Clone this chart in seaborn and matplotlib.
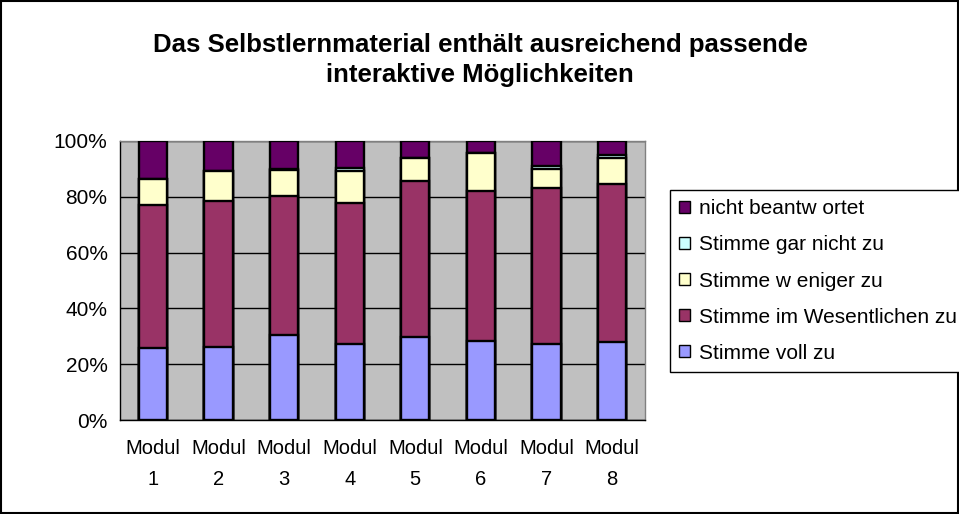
# Stacked survey bars, module evaluation
import numpy as np
import pandas as pd
import matplotlib
matplotlib.use('Agg')
import matplotlib.pyplot as plt
from matplotlib.patches import Rectangle, Patch
from matplotlib.ticker import FixedLocator
import seaborn as sns


# DATA ------------------

modules = ['Modul\n1', 'Modul\n2', 'Modul\n3', 'Modul\n4', 'Modul\n5', 'Modul\n6', 'Modul\n7', 'Modul\n8']
voll = [25.7, 26.3, 30.5, 27.1, 29.9, 28.4, 27.1, 27.8]
wesentlich = [51.3, 52.1, 49.9, 50.6, 55.8, 53.8, 55.9, 56.7]
weniger = [9.4, 10.7, 9.2, 11.7, 8.1, 13.6, 6.8, 9.3]
gar_nicht = [0.0, 0.0, 0.3, 1.0, 0.0, 0.0, 1.4, 1.2]
nicht_beantwortet = [13.6, 10.9, 10.1, 9.6, 6.2, 4.2, 8.8, 5.0]

series_names = ['Stimme voll zu', 'Stimme im Wesentlichen zu', 'Stimme w eniger zu',
                'Stimme gar nicht zu', 'nicht beantw ortet']
colors = ['#9999FF', '#993366', '#FFFFCC', '#CCFFFF', '#660066']


# PLOT ------------------

sns.set_style('white')
plt.rcParams['font.family'] = ['Liberation Sans', 'DejaVu Sans']
plt.rcParams['text.color'] = 'black'
plt.rcParams['xtick.color'] = 'black'
plt.rcParams['ytick.color'] = 'black'

fig = plt.figure(figsize=(9.59, 5.14), dpi=100)
ax = fig.add_axes([120 / 959, 1 - 420 / 514, 525 / 959, 279 / 514])
ax.set_facecolor('#C0C0C0')

df = pd.DataFrame({
    'modul': modules,
    series_names[0]: voll,
    series_names[1]: wesentlich,
    series_names[2]: weniger,
    series_names[3]: gar_nicht,
    series_names[4]: nicht_beantwortet,
})
cum = df[series_names].cumsum(axis=1).assign(modul=df['modul'])

# Draw cumulative totals from the top layer down so each lower layer overlays
for name, color in reversed(list(zip(series_names, colors))):
    sns.barplot(data=cum, x='modul', y=name, color=color,
                width=0.43, edgecolor='black', linewidth=1.7, saturation=1, ax=ax,
                zorder=3)

ax.set_ylim(0, 100)
ax.set_xlim(-0.5, len(modules) - 0.5)
ax.set_yticks(np.arange(0, 101, 20))
ax.set_yticklabels([f'{v}%' for v in range(0, 101, 20)], fontsize=15)
ax.yaxis.grid(True, color='black', linewidth=1)
ax.set_axisbelow(True)
ax.set_xlabel('')
ax.set_ylabel('')

ax.tick_params(axis='x', which='major', length=0, labelsize=14.5, pad=14)
ax.xaxis.set_minor_locator(FixedLocator(np.arange(-0.5, len(modules), 1)))
ax.tick_params(axis='x', which='minor', length=5, width=1, color='black', direction='out')
ax.tick_params(axis='y', length=5, width=1, color='black', direction='out', pad=4)
for lbl in ax.get_xticklabels():
    lbl.set_linespacing(1.8)

for side in ['left', 'bottom']:
    ax.spines[side].set_color('black')
    ax.spines[side].set_linewidth(1)
for side in ['top', 'right']:
    ax.spines[side].set_color('#808080')
    ax.spines[side].set_linewidth(1)

fig.text(480 / 959, 1 - 60 / 514,
         'Das Selbstlernmaterial enthält ausreichend passende\ninteraktive Möglichkeiten',
         ha='center', va='center', fontsize=18.5, fontweight='bold', linespacing=1.3)

handles = [Patch(facecolor=c, edgecolor='black', linewidth=1) for c in colors]
leg = fig.legend(handles[::-1], series_names[::-1], loc='upper left',
                 bbox_to_anchor=(670 / 959, 1 - 190 / 514), fontsize=15,
                 frameon=True, fancybox=False, edgecolor='black', framealpha=1,
                 handlelength=0.5, handleheight=0.5, handletextpad=0.45,
                 labelspacing=0.82, borderpad=0.45, borderaxespad=0)
leg.get_frame().set_linewidth(1)

fig.add_artist(Rectangle((0.001, 0.001), 0.998, 0.997, transform=fig.transFigure,
                         fill=False, edgecolor='black', linewidth=1.5))

fig.savefig('out.png', dpi=100)
